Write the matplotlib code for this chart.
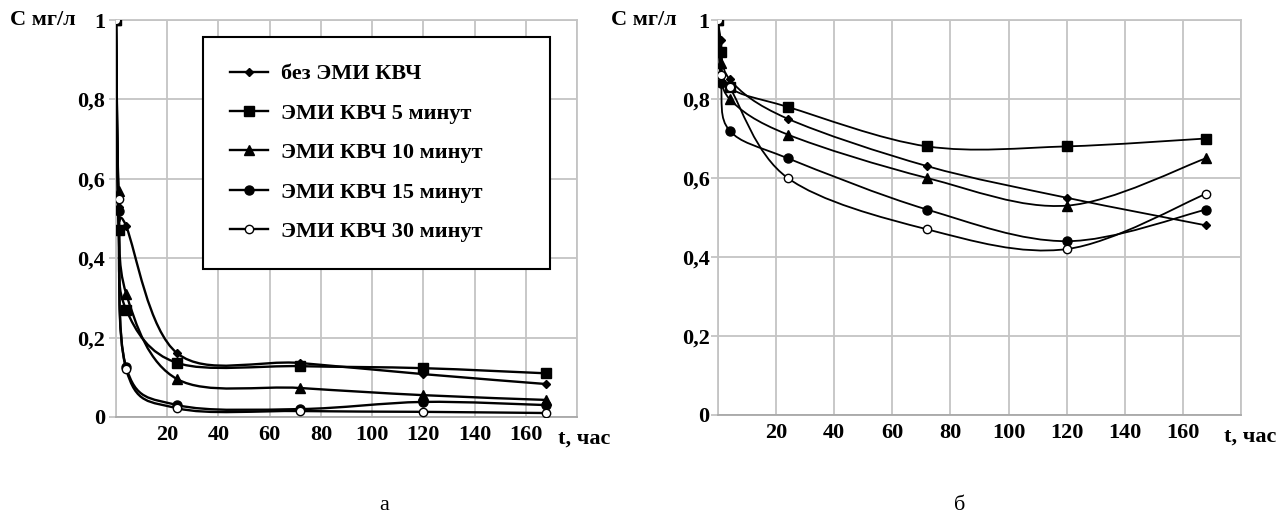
import numpy as np
import matplotlib.pyplot as plt
from matplotlib.path import Path
from matplotlib.patches import PathPatch
from matplotlib.lines import Line2D

plt.rcParams['font.family'] = ['Liberation Serif', 'DejaVu Serif']

# время, час
t = [0, 1, 4, 24, 72, 120, 168]

labels = ['без ЭМИ КВЧ', 'ЭМИ КВЧ 5 минут', 'ЭМИ КВЧ 10 минут',
          'ЭМИ КВЧ 15 минут', 'ЭМИ КВЧ 30 минут']

# а
a_none = [1, 0.53, 0.48, 0.16, 0.136, 0.108, 0.083]
a_5 = [1, 0.47, 0.27, 0.136, 0.128, 0.123, 0.11]
a_10 = [1, 0.57, 0.31, 0.095, 0.073, 0.055, 0.043]
a_15 = [1, 0.52, 0.125, 0.03, 0.02, 0.038, 0.03]
a_30 = [1, 0.55, 0.12, 0.022, 0.015, 0.013, 0.01]

# б
b_none = [1, 0.95, 0.85, 0.75, 0.63, 0.55, 0.48]
b_5 = [1, 0.92, 0.83, 0.78, 0.68, 0.68, 0.70]
b_10 = [1, 0.89, 0.80, 0.71, 0.60, 0.53, 0.65]
b_15 = [1, 0.84, 0.72, 0.65, 0.52, 0.44, 0.52]
b_30 = [1, 0.86, 0.83, 0.60, 0.47, 0.42, 0.56]

styles = [dict(marker='D', ms=4.5, mfc='black'),
          dict(marker='s', ms=6.5, mfc='black'),
          dict(marker='^', ms=7, mfc='black'),
          dict(marker='o', ms=6.5, mfc='black'),
          dict(marker='o', ms=6, mfc='white')]


def smooth_path(x, y):
    # кривая как в Excel (Catmull-Rom -> Bezier)
    p = np.column_stack([x, y]).astype(float)
    n = len(p)
    verts = [p[0]]
    codes = [Path.MOVETO]
    for i in range(n - 1):
        p0 = p[i - 1] if i > 0 else p[i]
        p3 = p[i + 2] if i + 2 < n else p[i + 1]
        c1 = p[i] + (p[i + 1] - p0) / 6
        c2 = p[i + 1] - (p3 - p[i]) / 6
        verts += [c1, c2, p[i + 1]]
        codes += [Path.CURVE4] * 3
    return Path(verts, codes)


def draw(ax, series, lw, ypad):
    for s, st in zip(series, styles):
        ax.add_patch(PathPatch(smooth_path(t, s), fill=False, lw=lw,
                               edgecolor='black', zorder=3))
        ax.plot(t, s, ls='none', color='black', mec='black', mew=1.0,
                zorder=4, **st)
    ax.set_xlim(0, 180)
    ax.set_ylim(0, 1)
    ax.set_xticks(range(0, 181, 20))
    ax.set_xticklabels([''] + [str(v) for v in range(20, 161, 20)] + [''])
    ax.set_yticks([0, 0.2, 0.4, 0.6, 0.8, 1.0])
    ax.set_yticklabels(['0', '0,2', '0,4', '0,6', '0,8', '1'])
    ax.grid(True, color='#c4c4c4', lw=1.3)
    ax.set_axisbelow(True)
    for sp in ax.spines.values():
        sp.set_color('#c4c4c4')
        sp.set_linewidth(1.3)
    ax.spines['bottom'].set_color('#a8a8a8')
    ax.tick_params(axis='x', length=0, pad=6, labelsize=16)
    ax.tick_params(axis='y', length=5, color='#c4c4c4', width=1.3,
                   pad=ypad, labelsize=16)
    for lab in ax.get_xticklabels() + ax.get_yticklabels():
        lab.set_fontweight('bold')
    ax.text(183, -0.055, 't, час', ha='center', va='center',
            fontsize=16, fontweight='bold', clip_on=False)


fig = plt.figure(figsize=(12.79, 5.30), dpi=100)
W, H = 1279, 530

ax1 = fig.add_axes([116 / W, 1 - 417 / H, 461 / W, 397 / H])
draw(ax1, [a_none, a_5, a_10, a_15, a_30], 1.7, 3)

ax2 = fig.add_axes([718 / W, 1 - 415 / H, 523 / W, 395 / H])
draw(ax2, [b_none, b_5, b_10, b_15, b_30], 1.3, 1)

handles = [Line2D([0], [0], color='black', lw=1.7, **st) for st in styles]
leg = ax1.legend(handles, labels, loc='upper left',
                 bbox_to_anchor=(0.189, 0.375, 0.752, 0.582), mode='expand',
                 fancybox=False, frameon=True, edgecolor='black',
                 framealpha=1, prop=dict(size=16, weight='bold'),
                 handlelength=1.7, labelspacing=0.85, borderpad=1.2,
                 borderaxespad=0, handletextpad=0.6)
leg.get_frame().set_linewidth(1.5)
leg.set_zorder(5)

fig.text(10 / W, 1 - 20 / H, 'C мг/л', ha='left', va='center',
         fontsize=16, fontweight='bold')
fig.text(611 / W, 1 - 20 / H, 'C мг/л', ha='left', va='center',
         fontsize=16, fontweight='bold')

fig.text(384 / W, 1 - 505 / H, 'а', ha='center', va='center', fontsize=16)
fig.text(960 / W, 1 - 505 / H, 'б', ha='center', va='center', fontsize=16)

fig.savefig('out.png', dpi=100, facecolor='white')
